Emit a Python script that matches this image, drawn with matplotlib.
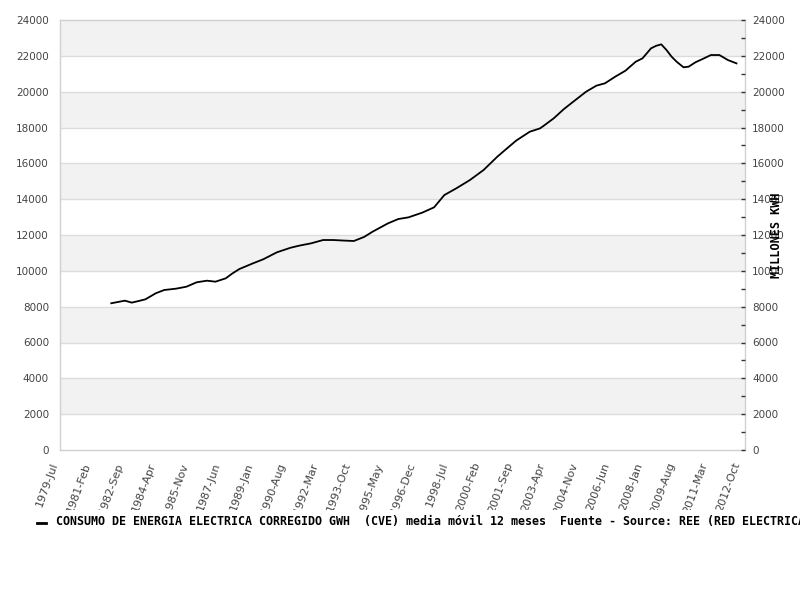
import matplotlib
matplotlib.use("Agg")
import matplotlib.pyplot as plt
from matplotlib.ticker import MultipleLocator
from matplotlib.patches import Rectangle

# ---- data ----
start_month = "1979-07"  # first category on the x axis

dates = ["1982-01", "1982-09", "1983-01", "1983-05", "1983-09", "1984-03", "1984-08",
         "1985-03", "1985-09", "1986-03", "1986-09", "1987-02", "1987-08", "1987-12",
         "1988-04", "1988-12", "1989-06", "1990-02", "1990-10", "1991-03", "1991-10",
         "1992-05", "1992-11", "1993-05", "1993-11", "1994-05", "1994-10", "1995-07",
         "1996-01", "1996-07", "1997-03", "1997-10", "1998-04", "1998-11", "1999-07",
         "2000-03", "2000-11", "2001-04", "2001-10", "2002-06", "2002-12", "2003-02",
         "2003-08", "2004-02", "2004-08", "2005-03", "2005-09", "2006-02", "2006-08",
         "2007-02", "2007-08", "2007-12", "2008-05", "2008-08", "2008-11", "2009-02",
         "2009-05", "2009-08", "2009-12", "2010-03", "2010-07", "2010-12", "2011-04",
         "2011-09", "2012-02", "2012-07"]

consumo = [8190, 8335, 8225, 8315, 8410, 8745, 8930,
           9005, 9115, 9360, 9450, 9395, 9580, 9860,
           10100, 10420, 10645, 11035, 11290, 11405, 11535,
           11720, 11720, 11690, 11665, 11890, 12185, 12650,
           12890, 12985, 13245, 13545, 14230, 14605, 15070,
           15630, 16370, 16780, 17265, 17765, 17950, 18085,
           18510, 19030, 19480, 20000, 20335, 20465, 20835,
           21170, 21670, 21860, 22420, 22560, 22640, 22330,
           21955, 21670, 21360, 21395, 21640, 21860, 22045,
           22045, 21765, 21580]

tick_labels = ["1979-Jul", "1981-Feb", "1982-Sep", "1984-Apr", "1985-Nov", "1987-Jun",
               "1989-Jan", "1990-Aug", "1992-Mar", "1993-Oct", "1995-May", "1996-Dec",
               "1998-Jul", "2000-Feb", "2001-Sep", "2003-Apr", "2004-Nov", "2006-Jun",
               "2008-Jan", "2009-Aug", "2011-Mar", "2012-Oct"]

y_ticks = [0, 2000, 4000, 6000, 8000, 10000, 12000, 14000, 16000, 18000, 20000, 22000, 24000]

legend_text = ("CONSUMO DE ENERGIA ELECTRICA CORREGIDO GWH  (CVE) media m\u00f3vil 12 meses  "
               "Fuente - Source: REE (RED ELECTRICA DE ESPA\u00d1A)")
right_label = "MILLONES KWH"

MONTHS = ["Jan", "Feb", "Mar", "Apr", "May", "Jun", "Jul", "Aug", "Sep", "Oct", "Nov", "Dec"]


def month_index(s):
    y, m = s.split("-")
    y0, m0 = start_month.split("-")
    return (int(y) - int(y0)) * 12 + (int(m) - int(m0))


def label_index(lbl):
    y, mon = lbl.split("-")
    return month_index(f"{y}-{MONTHS.index(mon) + 1:02d}")


xs = [month_index(d) for d in dates]
tick_pos = [label_index(t) for t in tick_labels]

# ---- figure ----
fig = plt.figure(figsize=(8, 6), dpi=100)
fig.patch.set_facecolor("white")
ax = fig.add_axes([60 / 800, 1 - 450 / 600, 685 / 800, 430 / 600])

ymax = y_ticks[-1]
ax.set_ylim(0, ymax)
ax.set_xlim(0, 401)

# alternating bands
for i in range(len(y_ticks) - 1):
    if i % 2 == 1:
        ax.axhspan(y_ticks[i], y_ticks[i + 1], color="#f2f2f2", zorder=0, lw=0)
for v in y_ticks[1:-1]:
    ax.axhline(v, color="#dcdcdc", lw=1.0, zorder=1)

ax.plot(xs, consumo, color="black", lw=1.3, zorder=3)

for s in ax.spines.values():
    s.set_color("#d0d0d0")
    s.set_linewidth(1.0)

ax.set_yticks(y_ticks)
ax.set_yticklabels([str(v) for v in y_ticks])
ax.tick_params(axis="y", left=False, length=0, pad=8, labelsize=7.5, labelcolor="#444444")

ax.set_xticks(tick_pos)
ax.set_xticklabels(tick_labels, rotation=70, ha="right", rotation_mode="default")
ax.tick_params(axis="x", bottom=False, length=0, pad=8, labelsize=8, labelcolor="#444444")

# right axis
ax2 = ax.twinx()
ax2.set_ylim(0, ymax)
ax2.set_yticks(y_ticks)
ax2.set_yticklabels([str(v) for v in y_ticks])
ax2.yaxis.set_minor_locator(MultipleLocator(1000))
ax2.tick_params(axis="y", which="both", direction="in", length=3, width=1,
                color="#333333", pad=5, labelsize=7.5, labelcolor="#444444")
for s in ax2.spines.values():
    s.set_visible(False)

fig.text(777 / 800, 1 - 235 / 600, right_label, rotation=90, ha="center", va="center",
         family="DejaVu Sans Mono", fontweight="bold", fontsize=8.6, color="black", zorder=10)

# cover area below tick labels (tick labels are clipped in reference)
fig.patches.append(Rectangle((0, 0), 1, 1 - 510 / 600, transform=fig.transFigure,
                             facecolor="white", edgecolor="none", zorder=5))

# legend line + text
fig.lines.append(plt.Line2D([37 / 800, 46 / 800], [1 - 523 / 600, 1 - 523 / 600],
                            transform=fig.transFigure, color="black", lw=2, zorder=6))
fig.text(56 / 800, 1 - 521 / 600, legend_text, ha="left", va="center",
         family="DejaVu Sans Mono", fontweight="bold", fontsize=8.35, color="black", zorder=6)

fig.savefig("out.png", dpi=100)
